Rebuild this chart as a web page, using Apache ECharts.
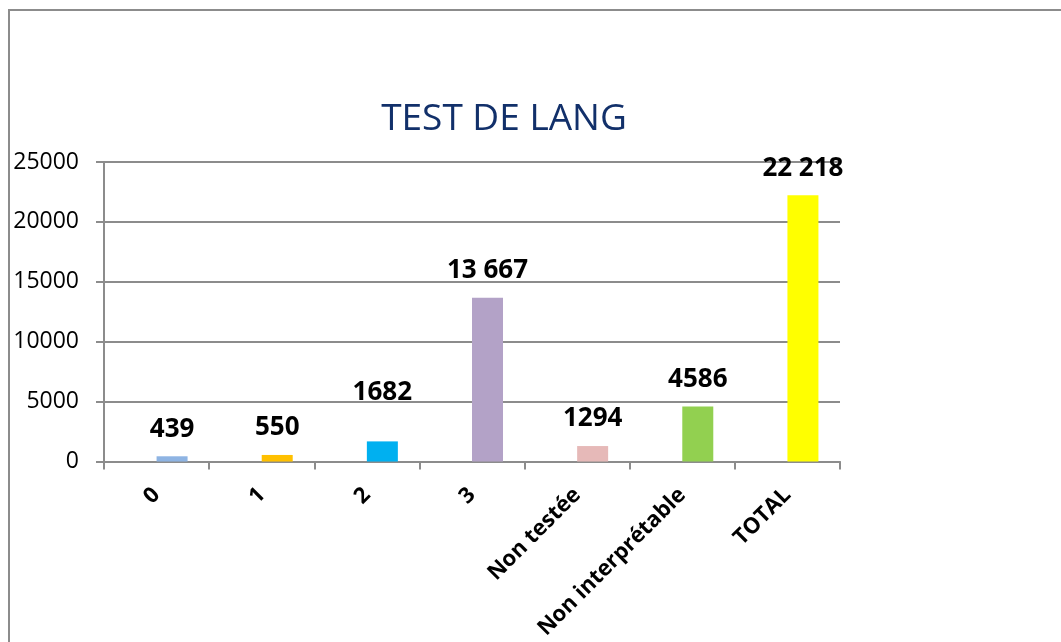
<!DOCTYPE html>
<html>
<head>
<meta charset="utf-8">
<script src="https://cdn.jsdelivr.net/npm/echarts@6/dist/echarts.min.js"></script>
<style>
  html, body { margin: 0; padding: 0; background: #fff; }
  .frame {
    position: absolute;
    left: 8px;
    top: 9px;
    width: 1100px;
    height: 700px;
    border-left: 2px solid #8c8c8c;
    border-top: 2px solid #8c8c8c;
  }
  .chart {
    position: absolute;
    left: 0;
    top: 0;
    width: 1061px;
    height: 642px;
  }
</style>
</head>
<body>
<div class="frame"></div>
<div class="chart" id="chart"></div>
<script>
// catégories et valeurs
const categories = ["0", "1", "2", "3", "Non testée", "Non interprétable", "TOTAL"];
const values = [439, 550, 1682, 13667, 1294, 4586, 22218];
const valueLabels = ["439", "550", "1682", "13 667", "1294", "4586", "22 218"];
const yTicks = [0, 5000, 10000, 15000, 20000, 25000];
// série vide du classeur d'origine (décale les barres à droite)
const emptySeries = [null, null, null, null, null, null, null];

const barColors = ["#8EB4E3", "#FFC000", "#00B0F0", "#B3A2C7", "#E6B9B8", "#92D050", "#FFFF00"];
// décalage vertical supplémentaire des étiquettes (px)
const labelLift = [0, 0, 22, 0, 0, 0, 0];

const gridColor = "#8c8c8c";

const chart = echarts.init(document.getElementById("chart"));

const option = {
  animation: false,
  title: {
    text: "TEST DE LANG",
    left: 499,
    top: 96,
    textAlign: "center",
    textStyle: {
      fontFamily: "Open Sans",
      fontSize: 37,
      fontWeight: "normal",
      color: "#12306a"
    }
  },
  grid: {
    left: 104,
    right: 221,
    top: 162,
    bottom: 177
  },
  xAxis: {
    type: "category",
    data: categories,
    boundaryGap: true,
    axisLine: { lineStyle: { color: gridColor, width: 2 } },
    axisTick: { show: true, interval: 0, length: 8, lineStyle: { color: gridColor, width: 2 } },
    axisLabel: {
      interval: 0,
      rotate: 45,
      margin: 30,
      color: "#000",
      fontFamily: "Open Sans",
      fontWeight: "bold",
      fontSize: 22
    }
  },
  yAxis: {
    type: "value",
    min: yTicks[0],
    max: yTicks[yTicks.length - 1],
    interval: yTicks[1] - yTicks[0],
    axisLine: { show: true, lineStyle: { color: gridColor, width: 2 } },
    axisTick: { show: true, length: 8, lineStyle: { color: gridColor, width: 2 } },
    splitLine: { lineStyle: { color: gridColor, width: 2 } },
    axisLabel: {
      margin: 25,
      color: "#000",
      fontFamily: "Open Sans",
      fontSize: 23,
      formatter: (v) => String(v)
    }
  },
  series: [
    {
      type: "bar",
      barWidth: 31,
      barGap: 0,
      data: emptySeries
    },
    {
      type: "bar",
      barWidth: 31,
      barGap: 0,
      data: values.map((v, i) => ({
        value: v,
        itemStyle: { color: barColors[i] },
        label: { offset: [0, -labelLift[i]] }
      })),
      label: {
        show: true,
        position: "top",
        distance: 14,
        color: "#000",
        fontFamily: "Open Sans",
        fontWeight: "bold",
        fontSize: 26,
        formatter: (p) => valueLabels[p.dataIndex]
      }
    }
  ]
};

chart.setOption(option);
window.addEventListener("resize", () => chart.resize());
</script>
</body>
</html>
